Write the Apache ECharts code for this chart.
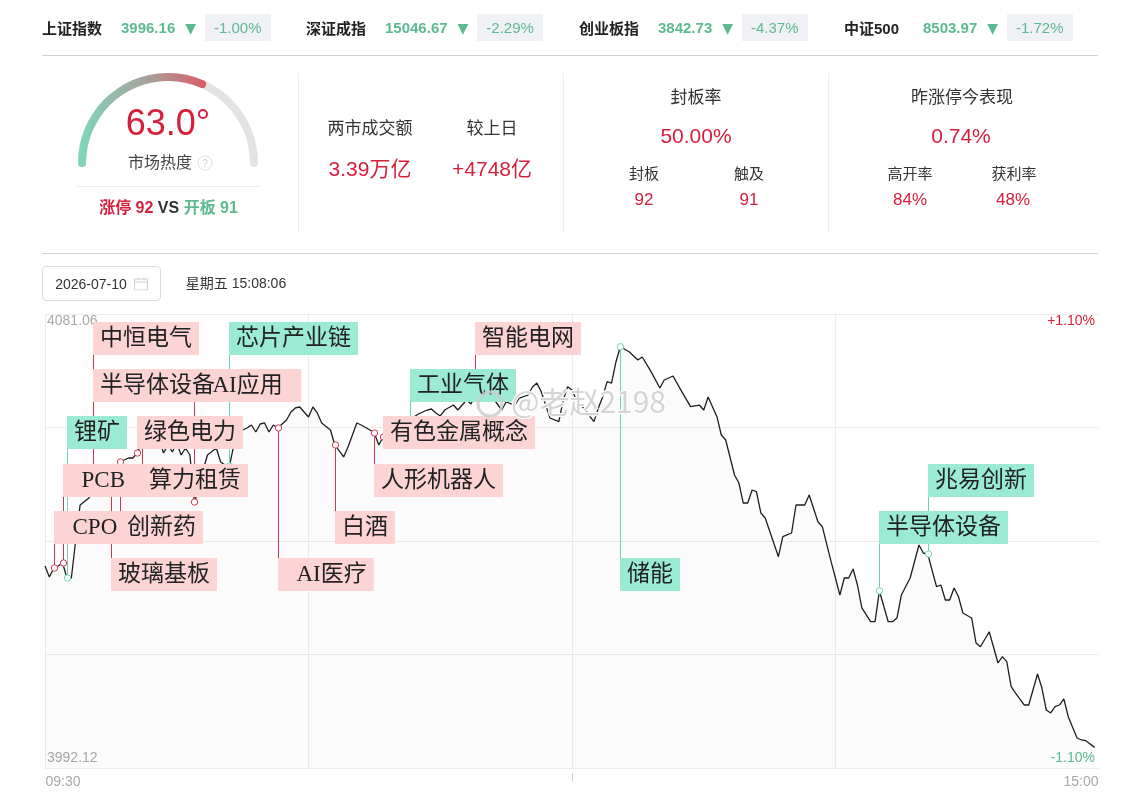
<!DOCTYPE html>
<html>
<head>
<meta charset="utf-8">
<title>市场热度与分时走势</title>
<script src="https://cdn.jsdelivr.net/npm/echarts@6.0.0/dist/echarts.min.js"></script>
<style>
  body { margin: 0; background: #fff; }
  #page { position: relative; width: 1136px; height: 802px; overflow: hidden;
          font-family: "Liberation Sans", "Noto Sans CJK SC", sans-serif; color: #333; }
  #main { position: absolute; left: 0; top: 0; width: 1136px; height: 802px; }
  .tx { position: absolute; white-space: nowrap; line-height: 1; transform: translate(-50%, -50%); }
  .rule { position: absolute; }
  .idx { position: absolute; top: 14px; height: 27px; display: flex; align-items: center; white-space: nowrap; }
  .iname { font-size: 15px; font-weight: bold; color: #222; width: 79px; }
  .ival { font-size: 15px; font-weight: bold; color: #5cba93; }
  .iarr { font-size: 14px; color: #5cba93; margin: 0 9px 0 10px; font-family: "DejaVu Sans"; }
  .ibadge { height: 27px; line-height: 27px; padding: 0 9px; background: #eff1f4; font-size: 15px; color: #5cba93; }
  .datebox { position: absolute; left: 42px; top: 266px; width: 117px; height: 33px; border: 1px solid #dcdcdc; border-radius: 4px; }
</style>
</head>
<body>
<div id="page">
  <div id="main"></div>
</div>
<script type="text/javascript">
// 大盘指数
var indexNames = ['上证指数', '深证成指', '创业板指', '中证500'];
var indexValues = ['3996.16', '15046.67', '3842.73', '8503.97'];
var indexChanges = ['-1.00%', '-2.29%', '-4.37%', '-1.72%'];
var indexLeft = [42, 306, 579, 844];

// 市场热度
var heatValue = 63.0;
var limitUpCount = 92, openBoardCount = 91;

// 成交额 / 封板率 / 昨涨停今表现
var turnoverLabels = ['两市成交额', '较上日'];
var turnoverValues = ['3.39万亿', '+4748亿'];
var sealRate = '50.00%';
var sealLabels = ['封板', '触及'];
var sealValues = ['92', '91'];
var yestRate = '0.74%';
var yestLabels = ['高开率', '获利率'];
var yestValues = ['84%', '48%'];

var tradeDate = '2026-07-10';
var tradeTime = '星期五 15:08:06';

// 分时 (分钟序号, 0 = 09:30, 240 = 15:00)
var yMin = 3992.12, yMax = 4081.06, pctRange = 1.10;
var timeLabels = ['09:30', '15:00'];
var mins = [0, 1, 2, 3, 4, 5, 6, 7, 8, 10,
    11, 12, 13, 14, 15, 16, 17, 19, 20, 21,
    22, 23, 25, 26, 27, 28, 29, 30, 31, 32,
    33, 34, 35, 36, 37, 39, 40, 41, 42, 43,
    44, 46, 47, 48, 49, 50, 51, 52, 53, 55,
    56, 57, 58, 60, 61, 62, 63, 65, 66, 68,
    69, 71, 72, 74, 75, 76, 77, 78, 80, 81,
    82, 83, 85, 87, 88, 89, 90, 91, 93, 94,
    96, 97, 98, 101, 102, 103, 104, 105, 107, 108,
    110, 111, 112, 113, 115, 117, 118, 119, 120, 121,
    123, 124, 125, 126, 127, 128, 129, 130, 131, 133,
    135, 136, 138, 140, 141, 143, 145, 147, 149, 150,
    151, 153, 154, 155, 157, 158, 159, 160, 161, 162,
    163, 164, 167, 168, 170, 171, 173, 174, 176, 177,
    179, 181, 182, 183, 184, 185, 186, 188, 189, 190,
    192, 193, 194, 195, 197, 199, 200, 201, 203, 204,
    205, 206, 207, 208, 209, 211, 212, 213, 215, 217,
    218, 219, 220, 221, 223, 224, 226, 227, 228, 229,
    230, 231, 232, 233, 235, 236, 237, 239];
var prices = [4031.69, 4029.54, 4031.30, 4031.69, 4032.28, 4029.34, 4029.34, 4036.79, 4043.64, 4045.01,
    4046.58, 4047.56, 4048.93, 4049.72, 4048.54, 4050.50, 4052.07, 4052.85, 4052.85, 4053.83,
    4055.98, 4056.77, 4057.94, 4056.38, 4053.83, 4055.40, 4054.03, 4055.79, 4053.44, 4054.81,
    4053.44, 4044.23, 4046.58, 4050.50, 4053.44, 4054.81, 4052.07, 4051.48, 4051.28, 4055.40,
    4057.94, 4058.73, 4059.32, 4057.94, 4059.51, 4059.71, 4057.94, 4059.32, 4058.73, 4060.29,
    4061.86, 4062.65, 4062.84, 4060.88, 4062.84, 4061.67, 4059.71, 4058.34, 4055.40, 4053.05,
    4055.01, 4059.71, 4059.32, 4058.34, 4057.75, 4055.40, 4056.96, 4058.73, 4058.34, 4059.32,
    4059.90, 4060.29, 4061.47, 4062.25, 4062.45, 4061.67, 4061.08, 4062.25, 4063.23, 4062.25,
    4064.21, 4063.43, 4065.19, 4065.78, 4064.60, 4063.43, 4062.25, 4063.82, 4063.23, 4064.60,
    4065.19, 4066.76, 4067.54, 4065.84, 4060.69, 4059.97, 4064.21, 4066.82, 4066.17, 4064.21,
    4062.25, 4061.08, 4059.97, 4062.65, 4064.86, 4067.80, 4067.54, 4071.66, 4074.65, 4073.67,
    4072.05, 4072.64, 4069.76, 4066.56, 4068.13, 4068.91, 4065.84, 4062.90, 4063.23, 4062.25,
    4064.80, 4060.94, 4057.36, 4056.38, 4049.52, 4047.95, 4044.03, 4044.03, 4046.58, 4046.25,
    4042.08, 4041.10, 4033.51, 4037.43, 4038.16, 4043.64, 4043.64, 4045.60, 4040.37, 4039.39,
    4032.54, 4026.01, 4029.34, 4029.34, 4031.11, 4027.97, 4023.47, 4020.78, 4020.78, 4026.80,
    4020.78, 4020.78, 4021.51, 4026.01, 4029.34, 4035.81, 4034.24, 4034.04, 4027.64, 4027.97,
    4025.03, 4025.03, 4027.38, 4025.68, 4022.49, 4021.51, 4016.61, 4015.88, 4018.82, 4012.69,
    4013.93, 4012.95, 4008.05, 4006.81, 4004.46, 4004.46, 4010.54, 4007.79, 4003.48, 4002.90,
    4004.13, 4004.46, 4005.64, 4002.17, 3998.00, 3997.61, 3997.47, 3996.16];

// 异动标签 (红 = 拉升, 绿 = 回落)
var tagNames = ['中恒电气', '半导体设备', '  AI应用  ', '锂矿', '绿色电力', '  PCB  ', '算力租赁',
    '  CPO', '创新药', '玻璃基板', '芯片产业链', '  AI医疗', '白酒', '人形机器人', '有色金属概念',
    '工业气体', '智能电网', '储能', '兆易创新', '半导体设备'];
var tagMins = [11, 11, 34, 5, 21, 4, 22, 2, 17, 15, 42, 53, 66, 75, 77, 83, 98, 131, 201, 190];
var tagRed = [1, 1, 1, 0, 1, 1, 1, 1, 1, 1, 0, 1, 1, 1, 1, 0, 1, 0, 0, 0];
var tagRows = [0, 1, 1, 2, 2, 3, 3, 4, 4, 5, 0, 5, 4, 3, 2, 1, 0, 5, 3, 4];

var RED = '#d6203b', GREEN = '#5cba93';
var page = document.getElementById('page');

function put(html, cx, cy, css) {
    var el = document.createElement('div');
    el.className = 'tx';
    el.style.cssText = 'left:' + cx + 'px;top:' + cy + 'px;' + (css || '');
    el.innerHTML = html;
    page.appendChild(el);
}
function rule(x, y, w, h, color) {
    var el = document.createElement('div');
    el.className = 'rule';
    el.style.cssText = 'left:' + x + 'px;top:' + y + 'px;width:' + w + 'px;height:' + h + 'px;background:' + color;
    page.appendChild(el);
}

// 顶部指数条
indexNames.forEach(function (n, i) {
    var d = document.createElement('div');
    d.className = 'idx';
    d.style.left = indexLeft[i] + 'px';
    d.innerHTML = '<span class="iname">' + n + '</span><span class="ival">' + indexValues[i] +
        '</span><span class="iarr">▼</span><span class="ibadge">' + indexChanges[i] + '</span>';
    page.appendChild(d);
});

rule(42, 55, 1056, 1, '#d0d0d0');
rule(42, 253, 1056, 1, '#d0d0d0');
rule(298, 73, 1, 160, '#ededed');
rule(563, 73, 1, 160, '#ededed');
rule(828, 73, 1, 160, '#ededed');
rule(77, 186, 183, 1, '#ececec');

// 市场热度
put('市场热度', 160, 163, 'font-size:16px;color:#444');
put('?', 205, 163, 'width:13px;height:13px;line-height:13px;border:1px solid #dedede;border-radius:50%;' +
    'text-align:center;font-size:10px;color:#cfcfcf');
put('<span style="color:' + RED + '">涨停 ' + limitUpCount + '</span> <span style="color:#333">VS</span> ' +
    '<span style="color:' + GREEN + '">开板 ' + openBoardCount + '</span>', 168.5, 208, 'font-size:16px;font-weight:bold');

// 成交额
put(turnoverLabels[0], 370, 128, 'font-size:17px;color:#333');
put(turnoverLabels[1], 492, 128, 'font-size:17px;color:#333');
put(turnoverValues[0], 370, 168, 'font-size:21px;color:' + RED);
put(turnoverValues[1], 492, 168, 'font-size:21px;color:' + RED);

// 封板率
put('封板率', 696, 97, 'font-size:17px;color:#333');
put(sealRate, 696, 135, 'font-size:21px;color:' + RED);
put(sealLabels[0], 644, 173, 'font-size:15px;color:#333');
put(sealLabels[1], 749, 173, 'font-size:15px;color:#333');
put(sealValues[0], 644, 199, 'font-size:17px;color:' + RED);
put(sealValues[1], 749, 199, 'font-size:17px;color:' + RED);

// 昨涨停今表现
put('昨涨停今表现', 962, 97, 'font-size:17px;color:#333');
put(yestRate, 961, 135, 'font-size:21px;color:' + RED);
put(yestLabels[0], 910, 173, 'font-size:15px;color:#333');
put(yestLabels[1], 1014, 173, 'font-size:15px;color:#333');
put(yestValues[0], 910, 199, 'font-size:17px;color:' + RED);
put(yestValues[1], 1013, 199, 'font-size:17px;color:' + RED);

// 日期
var box = document.createElement('div');
box.className = 'datebox';
page.appendChild(box);
put(tradeDate, 91, 284, 'font-size:14px;color:#333');
put('<svg width="14" height="13" viewBox="0 0 14 13"><rect x="0.5" y="1.5" width="13" height="11" fill="none" stroke="#cfcfcf"/>' +
    '<line x1="0.5" y1="4.5" x2="13.5" y2="4.5" stroke="#cfcfcf"/><line x1="4" y1="0" x2="4" y2="3" stroke="#cfcfcf"/>' +
    '<line x1="10" y1="0" x2="10" y2="3" stroke="#cfcfcf"/></svg>', 141, 284, 'line-height:0');
put(tradeTime, 236, 283, 'font-size:14px;color:#333');

// ---------- 图表 ----------
var myChart = echarts.init(document.getElementById('main'));

var lineData = mins.map(function (m, i) { return [m, prices[i]]; });
function priceAt(m) { return prices[mins.indexOf(m)]; }
var tagData = tagNames.map(function (n, i) { return [tagMins[i], priceAt(tagMins[i]), i]; });

var tagTop = 322, tagGap = 47.2;
var tagFont = '23px "Liberation Serif", "Noto Sans CJK SC"';

function renderLink(params, api) {
    var i = api.value(2);
    var p = api.coord([api.value(0), api.value(1)]);
    var x = Math.round(p[0]) + 0.5;
    var mid = Math.round(tagTop + tagRows[i] * tagGap) + 16;
    var col = tagRed[i] ? '#d2364f' : '#6fd3b2';
    return {
        type: 'group',
        children: [{
            type: 'line',
            shape: { x1: x, y1: p[1], x2: x, y2: mid },
            style: { stroke: col, lineWidth: 1 }
        }, {
            type: 'circle',
            z2: 5,
            shape: { cx: x, cy: p[1], r: 3.2 },
            style: { fill: '#fff', stroke: col, lineWidth: 1 }
        }]
    };
}

function renderBox(params, api) {
    var i = api.value(2);
    var p = api.coord([api.value(0), api.value(1)]);
    var x = Math.round(p[0]);
    var y = Math.round(tagTop + tagRows[i] * tagGap);
    var base = { text: tagNames[i], font: tagFont, padding: [4, 7, 3, 7], lineHeight: 26, verticalAlign: 'top', align: 'left' };
    return {
        type: 'group',
        children: [{
            type: 'text', x: x, y: y, z2: 1,
            style: echarts.util.extend({ fill: 'rgba(0,0,0,0)', backgroundColor: tagRed[i] ? '#fcd4d4' : '#9beAd3' }, base)
        }, {
            type: 'text', x: x, y: y, z2: 10,
            style: echarts.util.extend({ fill: '#222' }, base)
        }]
    };
}

var labelColor = '#a9a9a9';

var option = {
    animation: false,
    grid: { left: 45, right: 37, top: 314, bottom: 34 },
    xAxis: {
        type: 'value',
        min: 0,
        max: 240,
        interval: 60,
        axisLine: { show: false },
        axisTick: { show: false },
        splitLine: { showMaxLine: false, lineStyle: { color: '#ececec' } },
        axisLabel: {
            margin: 7,
            formatter: function (v) {
                if (v === 0) return '{l|' + timeLabels[0] + '}';
                if (v === 240) return '{r|' + timeLabels[1] + '}';
                return '';
            },
            rich: {
                l: { padding: [0, 0, 0, 36], color: labelColor, fontSize: 14, fontFamily: 'Liberation Sans' },
                r: { padding: [0, 36, 0, 0], color: labelColor, fontSize: 14, fontFamily: 'Liberation Sans' }
            }
        }
    },
    yAxis: [{
        type: 'value',
        min: yMin,
        max: yMax,
        axisLine: { show: false },
        axisTick: { show: false },
        splitLine: { show: false },
        axisLabel: {
            inside: true,
            margin: 2,
            showMinLabel: true,
            showMaxLabel: true,
            formatter: function (v) {
                if (v === yMax) return '{t|' + v.toFixed(2) + '}';
                if (v === yMin) return '{b|' + v.toFixed(2) + '}';
                return '';
            },
            rich: {
                t: { padding: [14, 0, 0, 0], color: labelColor, fontSize: 14, fontFamily: 'Liberation Sans' },
                b: { padding: [0, 0, 20, 0], color: labelColor, fontSize: 14, fontFamily: 'Liberation Sans' }
            }
        }
    }, {
        type: 'value',
        position: 'right',
        min: -pctRange,
        max: pctRange,
        interval: 0.55,
        axisLine: { show: false },
        axisTick: { show: false },
        splitLine: { lineStyle: { color: '#ececec' } },
        axisLabel: {
            inside: true,
            margin: 4,
            showMinLabel: true,
            showMaxLabel: true,
            formatter: function (v) {
                if (v > pctRange - 0.001) return '{t|+' + v.toFixed(2) + '%}';
                if (v < -pctRange + 0.001) return '{b|' + v.toFixed(2) + '%}';
                return '';
            },
            rich: {
                t: { padding: [14, 0, 0, 0], color: RED, fontSize: 14, fontFamily: 'Liberation Sans' },
                b: { padding: [0, 0, 20, 0], color: GREEN, fontSize: 14, fontFamily: 'Liberation Sans' }
            }
        }
    }],
    series: [{
        type: 'gauge',
        center: [168, 163],
        radius: 90,
        startAngle: 180,
        endAngle: 0,
        min: 0,
        max: 100,
        progress: {
            show: true,
            width: 8,
            roundCap: true,
            itemStyle: {
                color: new echarts.graphic.LinearGradient(0, 0, 1, 0, [
                    { offset: 0, color: '#7dd8bd' },
                    { offset: 0.6, color: '#ad9a94' },
                    { offset: 1, color: '#dc5a66' }
                ])
            }
        },
        axisLine: { roundCap: true, lineStyle: { width: 8, color: [[1, '#e3e3e3']] } },
        axisTick: { show: false },
        splitLine: { show: false },
        axisLabel: { show: false },
        pointer: { show: false },
        anchor: { show: false },
        title: { show: false },
        detail: {
            offsetCenter: [0, -38],
            formatter: function (v) { return v.toFixed(1) + '°'; },
            fontSize: 36,
            fontWeight: 'normal',
            fontFamily: 'Liberation Sans',
            color: RED
        },
        data: [{ value: heatValue }]
    }, {
        type: 'line',
        yAxisIndex: 0,
        data: lineData,
        showSymbol: false,
        z: 2,
        lineStyle: { color: '#1e1e1e', width: 1.3 },
        areaStyle: { color: 'rgba(0,0,0,0.022)', origin: 'start' }
    }, {
        type: 'custom',
        yAxisIndex: 0,
        z: 3,
        renderItem: renderLink,
        data: tagData
    }, {
        type: 'custom',
        yAxisIndex: 0,
        z: 4,
        renderItem: renderBox,
        data: tagData
    }]
};
myChart.setOption(option);

// 午休分隔刻度与水印
var lunchX = Math.round(myChart.convertToPixel({ xAxisIndex: 0 }, 120)) + 0.5;
myChart.setOption({
    graphic: [{
        type: 'line',
        shape: { x1: lunchX, y1: 773, x2: lunchX, y2: 781 },
        style: { stroke: '#cccccc', lineWidth: 1 }
    }, {
        type: 'circle',
        z: 100,
        shape: { cx: 490, cy: 404, r: 12 },
        style: { fill: 'none', stroke: 'rgba(205,205,205,0.85)', lineWidth: 3 }
    }, {
        type: 'text',
        z: 100,
        x: 511,
        y: 387,
        style: {
            text: '@老赵2198',
            font: '30px "Noto Sans CJK SC"',
            fill: 'rgba(205,205,205,0.85)',
            stroke: '#ffffff',
            lineWidth: 2
        }
    }]
});
</script>
</body>
</html>
